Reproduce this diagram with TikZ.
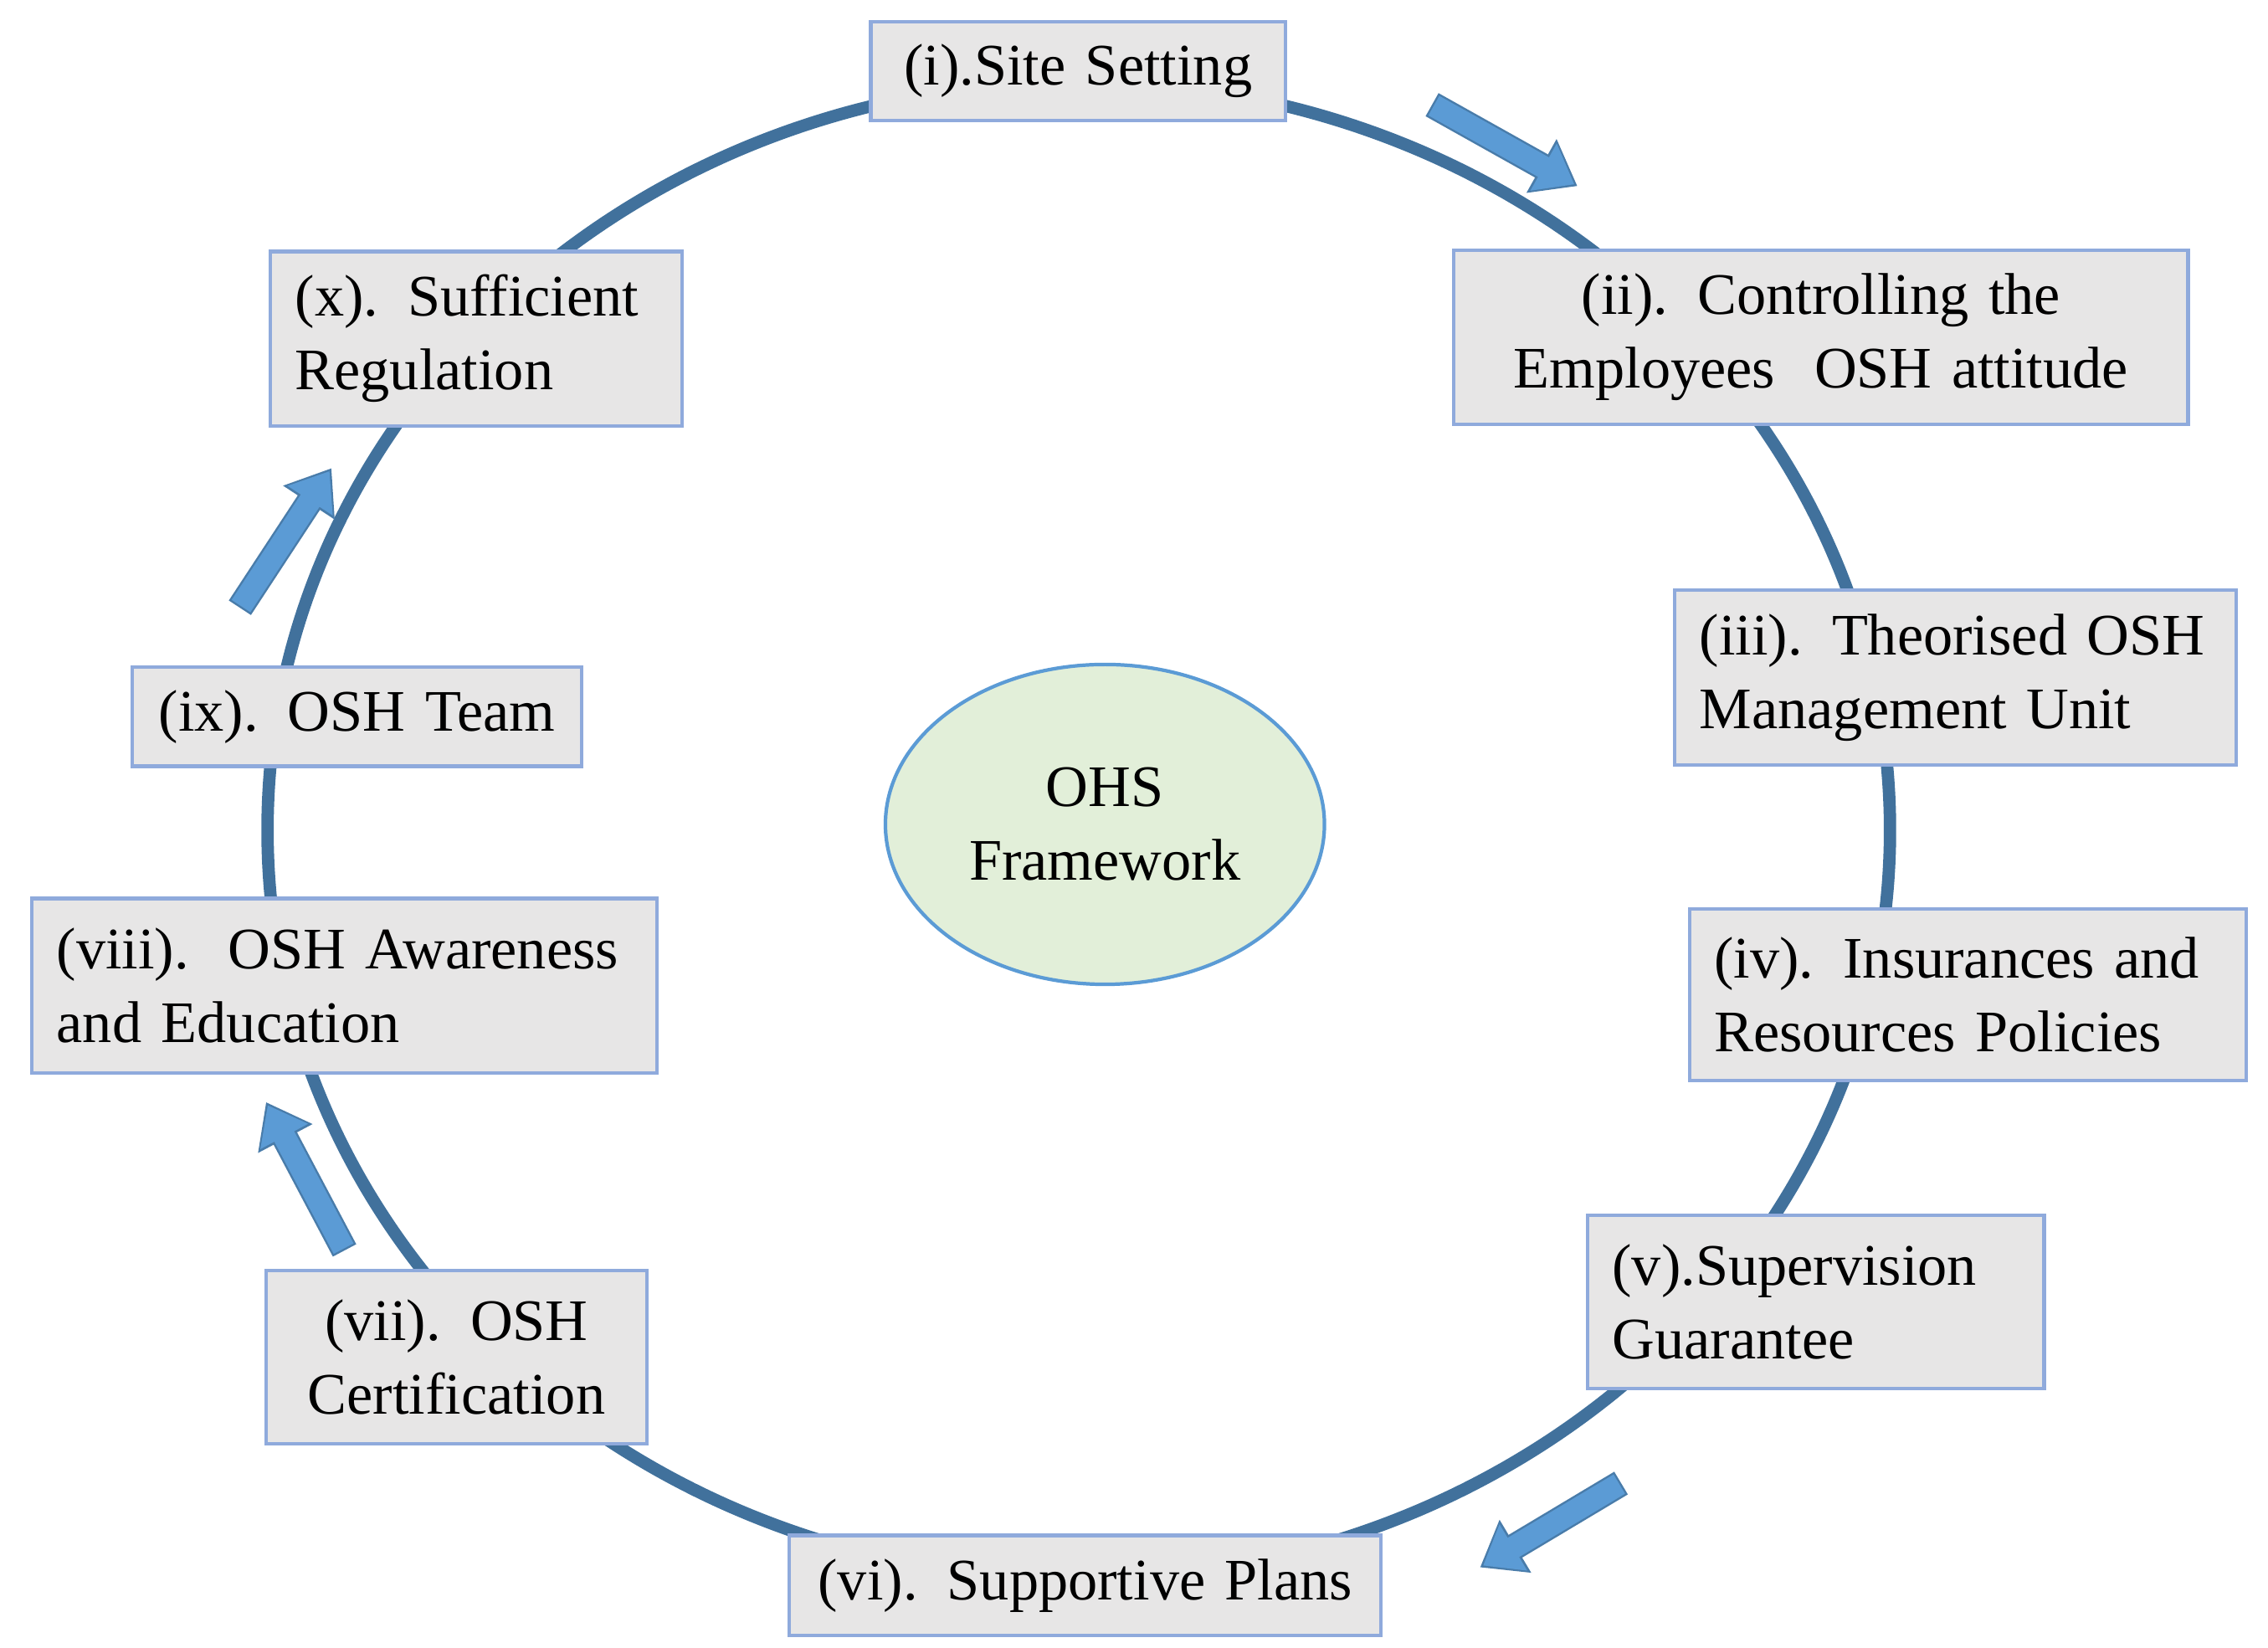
\documentclass[tikz,border=0pt]{standalone}
\usepackage{fontspec}
\setmainfont{Liberation Serif}
\usetikzlibrary{arrows.meta,shapes.geometric}
\definecolor{ring}{HTML}{41719C}
\definecolor{boxfill}{HTML}{E7E6E6}
\definecolor{boxline}{HTML}{8FAADC}
\definecolor{arr}{HTML}{5B9BD5}
\definecolor{cfill}{HTML}{E2EFD9}
\begin{document}
\begin{tikzpicture}[x=0.017372cm,y=-0.017372cm,
  bx/.style={draw=boxline,line width=1.2pt,fill=boxfill,inner sep=0pt,font=\fontsize{20}{25}\selectfont},
  ar/.style={draw=arr!80!black,line width=0.6pt,fill=arr}]
\useasboundingbox (0,0) rectangle (1560,1133);
\draw[ring,line width=4.2pt] (742,571) ellipse [x radius=558, y radius=515];
\newcommand{\bxat}[7]{\node[bx,minimum width={(#3-#1)*0.017372cm},minimum height={(#4-#2)*0.017372cm},text width={(#3-#1-34)*0.017372cm},align=#5] (#6) at ({(#1+#3)/2},{(#2+#4)/2}) {#7};}
\bxat{599}{15}{884}{83}{center}{i}{(i).Site Setting}
\bxat{1000}{172}{1505}{292}{center}{ii}{(ii). Controlling the\\Employees\ \ OSH attitude}
\bxat{1152}{406}{1538}{526}{left}{iii}{(iii). Theorised OSH\\Management Unit}
\bxat{1162}{625}{1545}{743}{left}{iv}{(iv). Insurances and\\Resources Policies}
\bxat{1092}{836}{1406}{955}{left}{v}{(v).Supervision\\Guarantee}
\bxat{543}{1056}{950}{1125}{center}{vi}{(vi). Supportive Plans}
\bxat{183}{874}{445}{993}{center}{vii}{(vii). OSH\\Certification}
\bxat{22}{618}{452}{738}{left}{viii}{(viii).\ \ OSH Awareness\\and Education}
\bxat{91}{459}{400}{527}{center}{ix}{(ix). OSH Team}
\bxat{186}{173}{469}{293}{left}{x}{(x). Sufficient\\Regulation}
\node[ellipse,draw=arr,line width=1.2pt,fill=cfill,minimum width={302*0.017372cm},minimum height={220*0.017372cm},align=center,font=\fontsize{20}{25}\selectfont] (c) at (760,567) {OHS\\Framework};
\coordinate (a1s) at (985,72); \coordinate (a1e) at (1085,128);
\coordinate (a2s) at (1115,1020); \coordinate (a2e) at (1018,1078);
\coordinate (a3s) at (237,860); \coordinate (a3e) at (183,758);
\coordinate (a4s) at (165,418); \coordinate (a4e) at (228,322);
\foreach \s/\e in {a1s/a1e,a2s/a2e,a3s/a3e,a4s/a4e}{
  \draw[arr!80!black,line width=9pt,-{Triangle[length=14pt,width=20pt]}] (\s) -- (\e);
  \draw[arr,line width=7.6pt,shorten <=0.7pt,shorten >=1.2pt,-{Triangle[length=12pt,width=17.5pt]}] (\s) -- (\e);
}
\end{tikzpicture}
\end{document}
